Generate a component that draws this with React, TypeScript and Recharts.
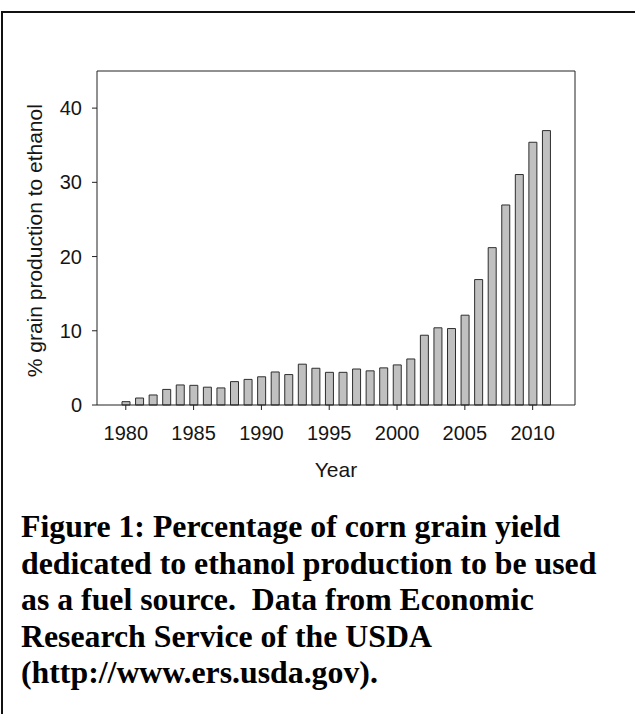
import React from 'react';
import { BarChart, Bar, XAxis, YAxis, CartesianGrid } from 'recharts';

const years = [
  1980, 1981, 1982, 1983, 1984, 1985, 1986, 1987, 1988, 1989,
  1990, 1991, 1992, 1993, 1994, 1995, 1996, 1997, 1998, 1999,
  2000, 2001, 2002, 2003, 2004, 2005, 2006, 2007, 2008, 2009,
  2010, 2011,
];

const pctToEthanol = [
  0.45, 0.94, 1.35, 2.1, 2.7, 2.65, 2.4, 2.3, 3.15, 3.45,
  3.8, 4.45, 4.1, 5.5, 4.95, 4.4, 4.4, 4.85, 4.6, 5.0,
  5.4, 6.2, 9.4, 10.4, 10.3, 12.1, 16.9, 21.2, 26.95, 31.05,
  35.4, 36.97,
];

const yTicks = [0, 10, 20, 30, 40];
const yTitle = '% grain production to ethanol';
const xTitle = 'Year';

const captionLines = [
  'Figure 1: Percentage of corn grain yield',
  'dedicated to ethanol production to be used',
  'as a fuel source.  Data from Economic',
  'Research Service of the USDA',
  '(http://www.ers.usda.gov).',
];

const data = years.map((y, i) => ({ year: String(y), pct: pctToEthanol[i] }));

const SANS = '"Liberation Sans", Arial, sans-serif';
const INK = '#151515';

const YTitleLabel = (props: any) => {
  const vb = props.viewBox || { x: 0, y: 71, width: 97, height: 334 };
  const cx = vb.x + 42.5;
  const cy = vb.y + vb.height / 2 + 2.7;
  return (
    <text
      x={cx}
      y={cy}
      transform={`rotate(-90 ${cx} ${cy})`}
      textAnchor="middle"
      fontSize={21}
      fontFamily={SANS}
      fill={INK}
    >
      {yTitle}
    </text>
  );
};

const XTitleLabel = (props: any) => {
  const vb = props.viewBox || { x: 97, y: 405, width: 478, height: 95 };
  return (
    <text
      x={vb.x + vb.width / 2}
      y={vb.y + 72}
      textAnchor="middle"
      fontSize={21}
      fontFamily={SANS}
      fill={INK}
    >
      {xTitle}
    </text>
  );
};

export default function App() {
  return (
    <div
      style={{
        position: 'absolute',
        left: 0,
        top: 0,
        width: 635,
        height: 714,
        overflow: 'hidden',
        background: '#ffffff',
      }}
    >
      <div
        style={{
          position: 'absolute',
          left: 1,
          top: 11,
          width: 800,
          height: 900,
          borderTop: '2px solid #111',
          borderLeft: '2px solid #111',
        }}
      />
      <div style={{ position: 'absolute', left: 0, top: 0 }}>
        <BarChart
          width={635}
          height={500}
          data={data}
          margin={{ top: 71, right: 60, bottom: 0, left: 0 }}
        >
          <CartesianGrid
            stroke="#222"
            strokeWidth={1}
            horizontalCoordinatesGenerator={(p: any) => [p.offset.top]}
            verticalCoordinatesGenerator={(p: any) => [p.offset.left + p.offset.width]}
          />
          <XAxis
            dataKey="year"
            interval={4}
            height={95}
            padding={{ left: 22, right: 22 }}
            tickSize={5}
            tickMargin={16}
            stroke="#222"
            tick={{ fill: INK, fontSize: 20, fontFamily: SANS }}
            label={<XTitleLabel />}
          />
          <YAxis
            domain={[0, 45]}
            ticks={yTicks}
            width={97}
            tickSize={5}
            tickMargin={10}
            stroke="#222"
            tick={{ fill: INK, fontSize: 20, fontFamily: SANS }}
            label={<YTitleLabel />}
          />
          <Bar
            dataKey="pct"
            barSize={8}
            fill="#c0c0c0"
            stroke="#2e2e2e"
            strokeWidth={1}
            isAnimationActive={false}
          />
        </BarChart>
      </div>
      <div
        style={{
          position: 'absolute',
          left: 21,
          top: 509,
          fontFamily: '"Liberation Serif", "Times New Roman", serif',
          fontWeight: 'bold',
          fontSize: 31.8,
          lineHeight: '36.5px',
          color: '#000',
          whiteSpace: 'pre',
        }}
      >
        {captionLines.map((line, i) => (
          <div key={i}>{line}</div>
        ))}
      </div>
    </div>
  );
}
